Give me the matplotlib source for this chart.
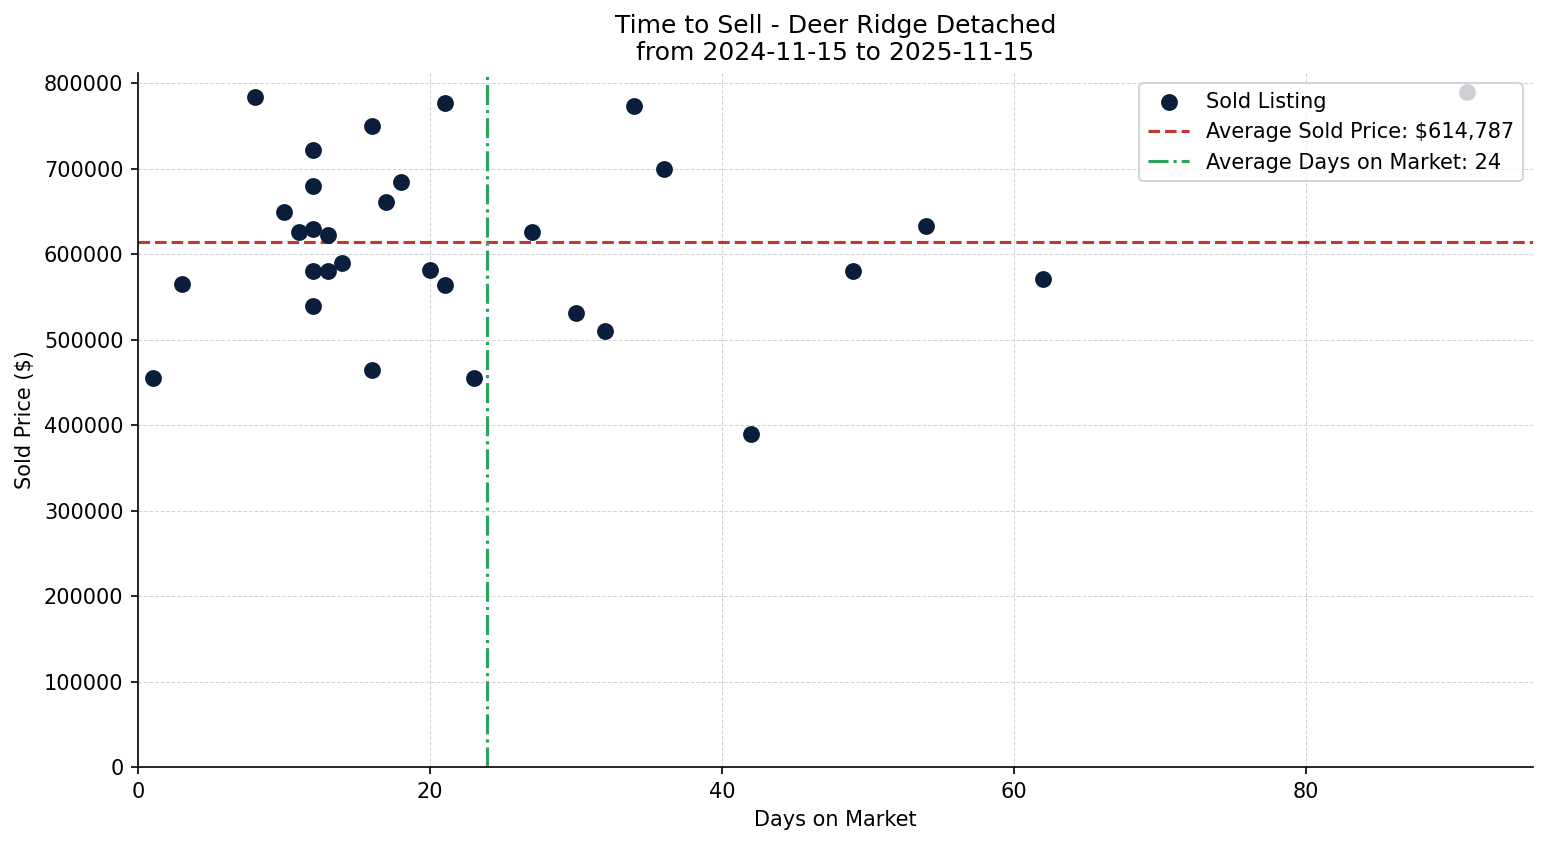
import matplotlib
matplotlib.use("Agg")
import matplotlib.pyplot as plt
import numpy as np

days_on_market = [1, 3, 8, 10, 11, 12, 12, 12, 12, 12, 13, 13, 14, 16, 16, 17, 18,
                  20, 21, 21, 23, 27, 30, 32, 34, 36, 42, 49, 54, 62, 91]
sold_prices = [455000, 565000, 784000, 649000, 626000, 722000, 680000, 629000, 581000,
               540000, 623000, 580000, 590000, 750000, 465000, 661000, 685000, 582000,
               777000, 564000, 455000, 626000, 531000, 510000, 773000, 700000, 390000,
               580000, 633000, 571000, 790000]
avg_price = 614787
avg_days = 24

title = "Time to Sell - Deer Ridge Detached\nfrom 2024-11-15 to 2025-11-15"

DPI = 150
fig = plt.figure(figsize=(1547/DPI, 845/DPI), dpi=DPI)
ax = fig.add_axes([138/1547, 1-767/845, (1533-138)/1547, (767-73)/845])

ax.scatter(days_on_market, sold_prices, s=50, color="#0a1e3c", zorder=3, label="Sold Listing")
ax.axhline(avg_price, color="#c0392b", linestyle="--", linewidth=1.5,
           label=f"Average Sold Price: ${avg_price:,.0f}")
ax.axvline(np.mean(days_on_market), color="#2ca25f", linestyle="-.", linewidth=1.5,
           label=f"Average Days on Market: {avg_days}")

ax.set_xlim(0, max(days_on_market) * 1.05)
ax.set_ylim(0, max(sold_prices) * 1.028)
ax.ticklabel_format(axis="y", style="plain")
ax.grid(True, linestyle="--", linewidth=0.5, color="#d0d0d0", alpha=0.9)
ax.set_axisbelow(True)
ax.spines["top"].set_visible(False)
ax.spines["right"].set_visible(False)

ax.set_xlabel("Days on Market")
ax.set_ylabel("Sold Price ($)")
ax.set_title(title, fontsize=12)
ax.legend(loc="upper right")

fig.savefig("out.png", dpi=DPI)
